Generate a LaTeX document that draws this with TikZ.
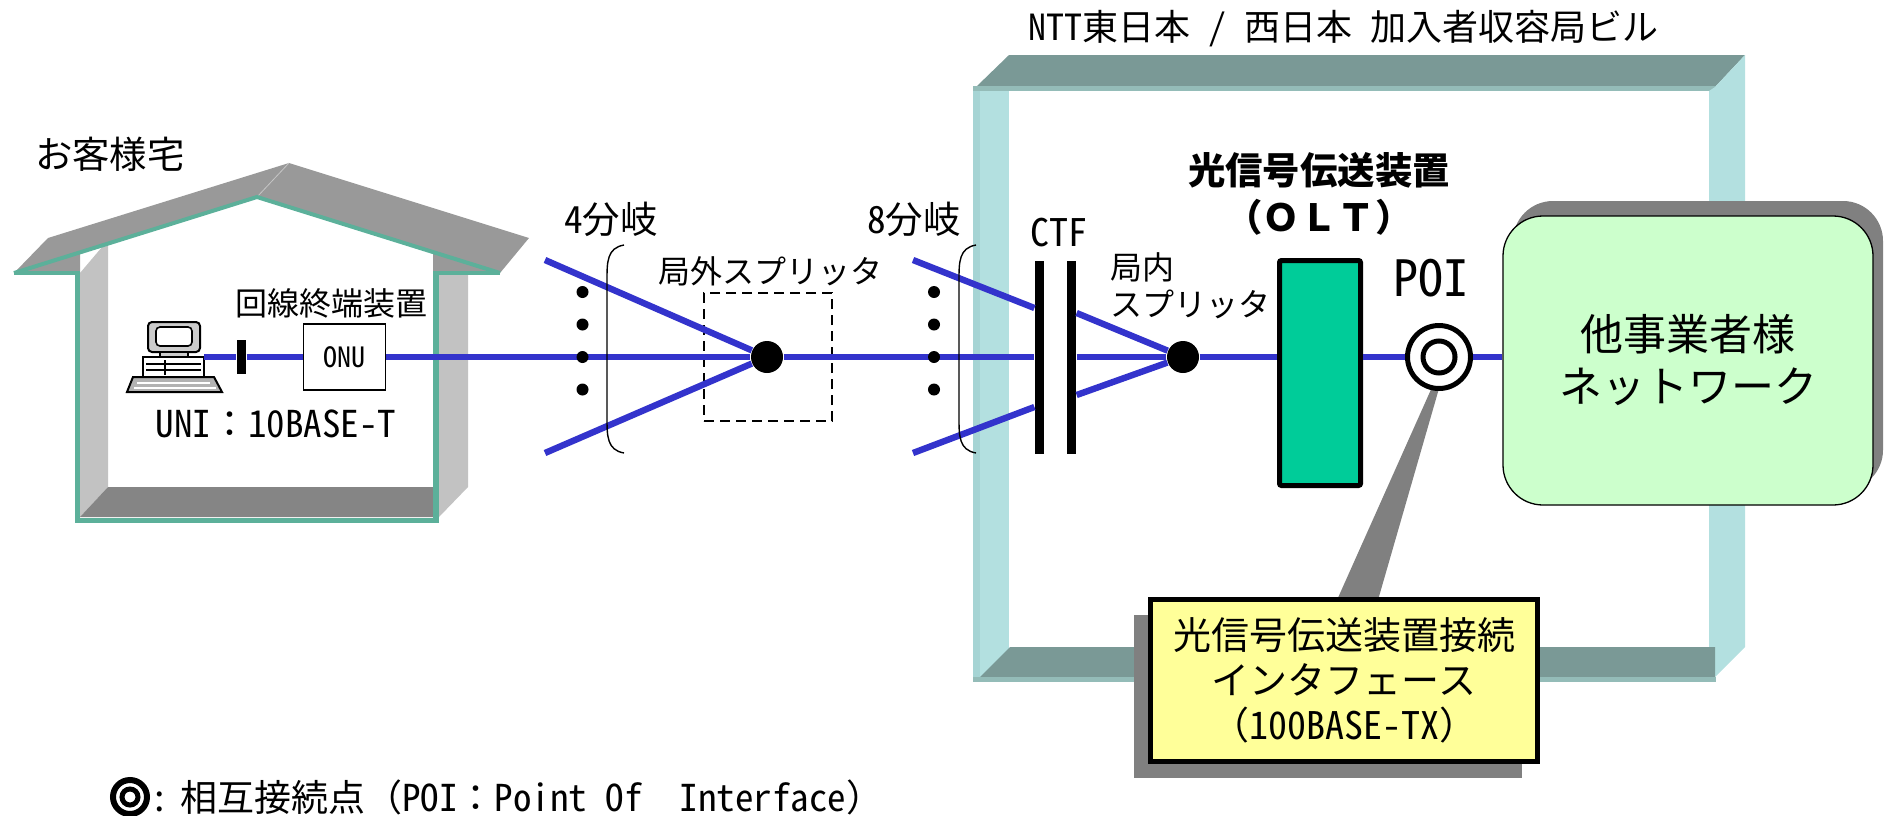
\documentclass[tikz,border=0pt]{standalone}
\usepackage{fontspec}
\setmainfont{Noto Sans CJK JP}
\newfontfamily\hw[CharacterWidth=Half]{Noto Sans CJK JP}
\usetikzlibrary{shadows}

\definecolor{fiberblue}{RGB}{51,51,204}
\definecolor{wallgreen}{RGB}{92,176,154}
\definecolor{roofgray}{RGB}{153,153,153}
\definecolor{sidegray}{RGB}{194,194,194}
\definecolor{floorgray}{RGB}{133,133,133}
\definecolor{slab}{RGB}{122,153,150}
\definecolor{slabedge}{RGB}{148,188,184}
\definecolor{pillar}{RGB}{179,224,224}
\definecolor{pillaredge}{RGB}{166,212,212}
\definecolor{oltgreen}{RGB}{0,204,153}
\definecolor{netgreen}{RGB}{204,255,204}
\definecolor{noteyellow}{RGB}{255,255,153}
\definecolor{shadowgray}{RGB}{128,128,128}

\begin{document}
\begin{tikzpicture}[x=0.5pt,y=-0.5pt,semithick,node distance=16pt]
    \tikzstyle{every node}=[inner sep=0pt]
    \tikzstyle{link}=[draw=fiberblue,line width=3.2pt]
    \tikzstyle{ctfbar}=[fill=black,minimum width=4.5pt,minimum height=96.5pt]
    \tikzstyle{junction}=[circle,fill=black,minimum size=16pt]
    \tikzstyle{jtext}=[font=\fontsize{16}{18.5}\selectfont]
    \tikzstyle{jbig}=[font=\fontsize{18.7}{22}\selectfont]

    \useasboundingbox (0,0) rectangle (1885,815);

    % house
    \fill[sidegray] (80,273) -- (108,240) -- (108,487) -- (80,517) -- cycle;
    \fill[sidegray] (439,273) -- (468,273) -- (468,487) -- (439,517) -- cycle;
    \fill[floorgray] (80,517) -- (108,487) -- (433,487) -- (433,517) -- cycle;
    \fill[roofgray] (14,273) -- (48,238) -- (289,163) -- (529,238) -- (500,273)
        -- (257,197) -- cycle;
    \fill[roofgray] (14,273) -- (80,252) -- (80,273) -- cycle;
    \fill[roofgray] (433,252) -- (500,273) -- (433,273) -- cycle;
    \draw[gray!45,thin] (257,197) -- (289,163);
    \draw[wallgreen,line width=2pt] (14,273) -- (257,197) -- (500,273);
    \draw[wallgreen,line width=2pt] (14,273) -- (80,273) (433,273) -- (500,273);
    \draw[wallgreen,line width=2.8pt] (77.5,273) -- (77.5,520.5) -- (436,520.5) -- (436,273);

    % office building
    \fill[slab] (977,86) -- (1009,55) -- (1745,55) -- (1715,87) -- cycle;
    \fill[slabedge] (973,86) rectangle (1716,91);
    \fill[pillar] (973,91) rectangle (1009,677);
    \fill[pillaredge] (973,91) rectangle (980,677);
    \fill[pillar] (1709,91) -- (1715,87) -- (1745,55) -- (1745,647) -- (1715,677)
        -- (1709,677) -- cycle;
    \fill[slab] (980,677) -- (1010,647) -- (1715,647) -- (1715,677) -- cycle;
    \fill[slabedge] (973,677) rectangle (1716,682);

    % callout pointer
    \fill[shadowgray] (1433,385) -- (1440,385) -- (1378,600) -- (1337,600) -- cycle;

    % personal computer
    \filldraw[fill=gray!40,rounded corners=2pt,line width=1pt] (148,322) rectangle (200,352);
    \filldraw[fill=white,rounded corners=2pt,line width=0.8pt] (156,327) rectangle (192,346);
    \filldraw[fill=gray!40,line width=0.8pt] (160,352) rectangle (188,357);
    \filldraw[fill=white,line width=1pt] (143,357) rectangle (204,377);
    \draw[line width=0.6pt] (146,364) -- (201,364) (146,370) -- (201,370) (165,360) -- (165,375);
    \filldraw[fill=gray!60,line width=1pt] (133,377) -- (214,377) -- (222,392) -- (127,392) -- cycle;
    \draw[white,line width=0.6pt] (137,383) -- (210,383) (134,388) -- (216,388);

    \coordinate (PC) at (204,357);
    \node[fill=black,minimum width=4.5pt,minimum height=17pt] (UNI) at (241.5,357) {};
    \node[draw,thick,fill=white,minimum width=41pt,minimum height=33pt,
          font=\hw\fontsize{14}{16}\selectfont] (ONU) at (344.5,357) {ONU};
    \node[junction] (OSP) at (767,357) {};
    \node[draw,dashed,line width=1pt,dash pattern=on 5pt off 3pt,minimum size=64pt]
          (OSPbox) at (768,357) {};
    \node[ctfbar] (CTFa) at (1039.5,357) {};
    \node[ctfbar] (CTFb) [right of=CTFa] {};
    \node[junction] (ISP) at (1183,357) {};
    \node[draw,line width=2.5pt,fill=oltgreen,rounded corners=1pt,minimum width=40.5pt,
          minimum height=112.5pt] (OLT) at (1320,373) {};
    \node[circle,draw,line width=2.5pt,fill=white,minimum size=31.5pt] (POI) at (1439,357) {};
    \draw[line width=2.5pt] (POI) circle (8pt);
    \node[draw,line width=0.65pt,fill=netgreen,rounded corners=20pt,minimum width=185pt,
          minimum height=144.5pt,align=center,font=\fontsize{21.5}{26}\selectfont,
          drop shadow={shadow xshift=5pt,shadow yshift=7.5pt,fill=shadowgray,opacity=1}]
          (NET) at (1688,360.5) {他事業者様\\ネットワーク};
    \node[draw,line width=2.5pt,fill=noteyellow,minimum width=193.75pt,minimum height=81.25pt,
          align=center,font=\fontsize{19}{22.5}\selectfont,
          drop shadow={shadow xshift=-8pt,shadow yshift=-8pt,fill=shadowgray,opacity=1}]
          (NOTE) at (1344,680.5) {光信号伝送装置接続\\インタフェース\\（{\hw 100BASE-TX}）};

    \coordinate (F1) at (545,260);
    \coordinate (F2) at (545,453);
    \coordinate (F3) at (913,260);
    \coordinate (F4) at (913,453);

    \path[link]
        (PC)  edge (UNI)
        (UNI) edge (ONU)
        (ONU) edge (OSP)
        (F1)  edge (OSP)
        (F2)  edge (OSP)
        (OSP) edge (CTFa)
        (F3)  edge ([yshift=24.5pt]CTFa.west)
        (F4)  edge ([yshift=-25pt]CTFa.west)
        ([yshift=22pt]CTFb.east)  edge (ISP)
        (CTFb) edge (ISP)
        ([yshift=-19pt]CTFb.east) edge (ISP)
        (ISP) edge (OLT.west |- ISP)
        (OLT.east |- POI) edge (POI)
        (POI) edge (NET.west |- POI);

    \foreach \y in {292,324.5,357,389.5} {
        \fill (582.5,\y) circle (3pt);
        \fill (934,\y) circle (3pt);
    }
    \draw[line width=0.7pt] (624,245) .. controls (607,248) and (607,262) .. (607,280)
        -- (607,418) .. controls (607,436) and (607,450) .. (624,453);
    \draw[line width=0.7pt] (976,245) .. controls (959,248) and (959,262) .. (959,280)
        -- (959,418) .. controls (959,436) and (959,450) .. (976,453);

    \node[jbig] (HOME) at (110,154) {お客様宅};
    \node[font=\fontsize{18}{20}\selectfont] (BLDG) at (1343,29)
          {{\hw NTT}東日本{\hw~/~}西日本{\hw~}加入者収容局ビル};
    \node[jtext] (ONUname) at (331,303) {回線終端装置};
    \node[font=\fontsize{18.5}{20}\selectfont] (UNIname) at (276,424)
          {{\hw UNI}：{\hw 10BASE-T}};
    \node[jbig] (SPL4) at (611,219) {{\hw 4}分岐};
    \node[jbig] (SPL8) at (914,219) {{\hw 8}分岐};
    \node[jtext] (OSPname) at (770,271) {局外スプリッタ};
    \node[font=\hw\fontsize{19}{20}\selectfont] (CTFname) at (1059,233) {CTF};
    \node[jtext,align=left,anchor=west] (ISPname) at (1110,286) {局内\\スプリッタ};
    \node[align=center,font=\bfseries\fontsize{18.7}{23.5}\selectfont] (OLTname)
          at (1319,193.5) {光信号伝送装置\\（ＯＬＴ）};
    \node[font=\hw\fontsize{25}{28}\selectfont] (POIname) at (1431,278) {POI};

    % legend
    \node[circle,draw,line width=3pt,minimum size=17pt] (KEY) at (130,797) {};
    \draw[line width=2.5pt] (KEY) circle (4pt);
    \node[anchor=west,font=\fontsize{18.5}{20}\selectfont] (KEYname) at (150,797)
          {{\hw :} 相互接続点（{\hw POI}：{\hw Point Of~~Interface}）};
\end{tikzpicture}
\end{document}
